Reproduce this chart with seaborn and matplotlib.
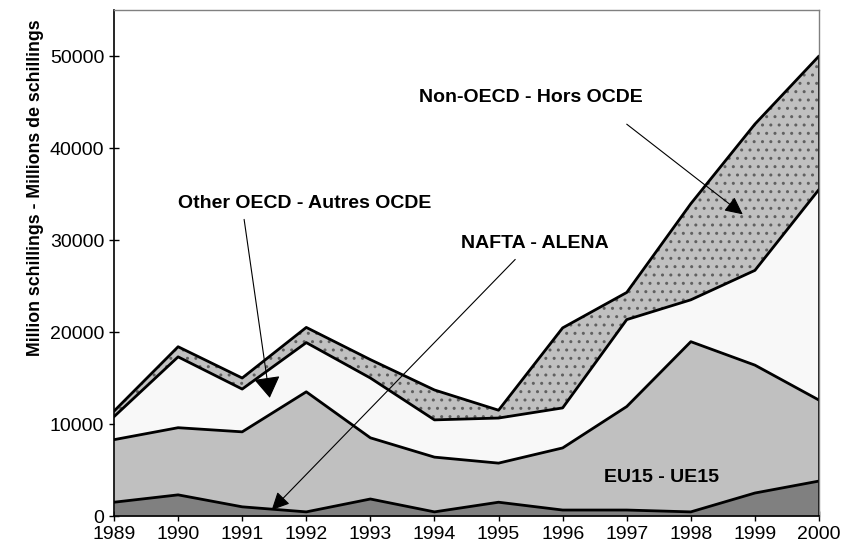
import numpy as np
import pandas as pd
import seaborn as sns
import matplotlib.pyplot as plt

sns.set_style("white")
plt.rcParams['font.family'] = ['Liberation Sans', 'DejaVu Sans']
plt.rcParams['text.color'] = 'black'
plt.rcParams['axes.labelcolor'] = 'black'

years = [1989, 1990, 1991, 1992, 1993, 1994, 1995, 1996, 1997, 1998, 1999, 2000]
nafta = [1500, 2300, 1000, 450, 1850, 450, 1500, 650, 650, 450, 2500, 3800]
eu15 = [6800, 7300, 8150, 13050, 6650, 5950, 4250, 6750, 11250, 18500, 13900, 8800]
other_oecd = [2500, 7700, 4650, 5350, 6500, 4050, 4900, 4350, 9450, 4550, 10300, 22900]
non_oecd = [600, 1100, 1200, 1650, 2000, 3250, 850, 8700, 2950, 10450, 15900, 14500]
groups = ['NAFTA', 'EU15', 'Other OECD', 'Non-OECD']

colors = ['#808080', '#c0c0c0', '#f8f8f8', '#c0c0c0']

fig = plt.figure(figsize=(8.42, 5.56), dpi=100)
ax = fig.add_axes([0.1354, 0.0719, 0.8373, 0.9101])

polys = ax.stackplot(years, nafta, eu15, other_oecd, non_oecd,
                     colors=colors, linewidth=0)
polys[3].set_hatch('..')
polys[3].set_edgecolor('#606060')

# outlines: top of every band
tops = np.cumsum([nafta, eu15, other_oecd, non_oecd], axis=0)
df = pd.DataFrame({'year': years * 4,
                   'value': tops.ravel(),
                   'group': np.repeat(groups, len(years))})
sns.lineplot(data=df, x='year', y='value', units='group', estimator=None,
             color='black', linewidth=2, ax=ax, legend=False)
ax.vlines(years[-1], 0, tops[-1][-1], color='black', linewidth=2)

ax.set_xlim(1989, 2000)
ax.set_ylim(0, 55000)
ax.set_xticks(years)
ax.set_yticks(range(0, 50001, 10000))
ax.set_xlabel('')
ax.tick_params(direction='inout', length=7, width=1, labelsize=14,
               left=True, bottom=True, colors='black')
ax.set_ylabel('Million schillings - Millions de schillings',
              fontsize=12.8, fontweight='bold')
ax.yaxis.set_label_coords(-0.10, 0.648)

for s in ['left', 'bottom']:
    ax.spines[s].set_color('black')
    ax.spines[s].set_linewidth(1.2)
for s in ['top', 'right']:
    ax.spines[s].set_color('#808080')
    ax.spines[s].set_linewidth(1)

big = dict(arrowstyle='-|>,head_length=0.55,head_width=0.35', color='black',
           lw=0.8, mutation_scale=24, shrinkA=0, shrinkB=0)
small = dict(arrowstyle='-|>,head_length=0.45,head_width=0.22', color='black',
             lw=0.8, mutation_scale=24, shrinkA=0, shrinkB=0)

ax.text(1991.98, 33990, 'Other OECD - Autres OCDE', ha='center', va='center',
        fontsize=14, fontweight='bold')
ax.annotate('', xy=(1991.43, 12850), xytext=(1991.03, 32240), arrowprops=big)

ax.text(1995.57, 29630, 'NAFTA - ALENA', ha='center', va='center',
        fontsize=14, fontweight='bold')
ax.annotate('', xy=(1991.46, 650), xytext=(1995.26, 27890), arrowprops=small)

ax.text(1995.5, 45530, 'Non-OECD - Hors OCDE', ha='center', va='center',
        fontsize=14, fontweight='bold')
ax.annotate('', xy=(1998.81, 32790), xytext=(1997.0, 42590), arrowprops=small)

ax.text(1997.55, 4140, 'EU15 - UE15', ha='center', va='center',
        fontsize=14, fontweight='bold')

fig.savefig('out.png', dpi=100)
